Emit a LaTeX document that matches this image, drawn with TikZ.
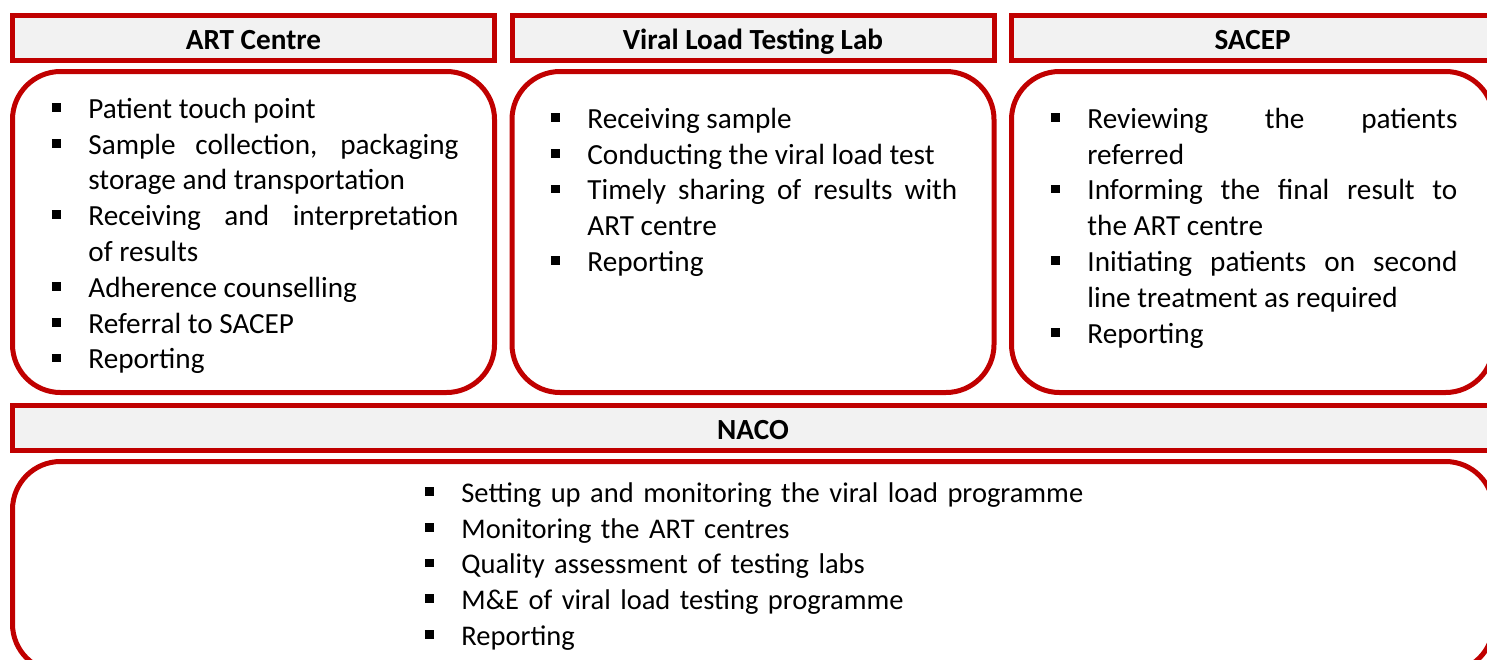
\documentclass[tikz,border=0pt]{standalone}
\usepackage{fontspec}
\setmainfont{Carlito}
\usepackage{tikz}
\definecolor{boxred}{HTML}{C00000}
\definecolor{headgray}{HTML}{F2F2F2}
\newcommand{\bodyfont}{\fontsize{14.6pt}{17.9pt}\selectfont}
\newcommand{\sqbullet}{\noindent\llap{\rule[3.3pt]{4.5pt}{4.4pt}\hspace{13.75pt}}}
\tolerance=9999
\hyphenpenalty=10000

\begin{document}
\begin{tikzpicture}[x=0.5pt, y=-0.5pt,
    headbox/.style={rectangle, draw=boxred, line width=2.5pt, fill=headgray, minimum width=241pt, minimum height=22.5pt, inner sep=0pt, text height=11.3pt, text depth=0pt, font=\bodyfont\bfseries},
    roundbox/.style={rectangle, rounded corners=24pt, draw=boxred, line width=2.5pt, minimum width=241pt, minimum height=160.5pt},
    listtext/.style={anchor=base west, inner sep=0pt, text width=185pt, align=justify, font=\bodyfont}]
    \useasboundingbox (0, 0) rectangle (1487, 659);

    % headers
    \node[headbox] (art head) at (253.5, 38) {ART Centre};
    \node[headbox] (lab head) at (753, 38) {Viral Load Testing Lab};
    \node[headbox] (sacep head) at (1252.5, 38) {SACEP};
    \node[headbox, minimum width=740.5pt] (naco head) at (753, 428) {NACO};

    % rounded boxes
    \node[roundbox] (art box) at (253.5, 232) {};
    \node[roundbox] (lab box) at (753, 232) {};
    \node[roundbox] (sacep box) at (1252.5, 232) {};
    \node[roundbox, minimum width=740.5pt, minimum height=105.25pt] (naco box) at (753, 566.75) {};

    % lists
    \node[listtext] (art list) at (88, 118.3) {%
        \sqbullet Patient touch point\par
        \sqbullet Sample collection, packaging\linebreak storage and transportation\par
        \sqbullet Receiving and interpretation\linebreak of results\par
        \sqbullet Adherence counselling\par
        \sqbullet Referral to SACEP\par
        \sqbullet Reporting};
    \node[listtext] (lab list) at (587, 128.3) {%
        \sqbullet Receiving sample\par
        \sqbullet Conducting the viral load test\par
        \sqbullet Timely sharing of results with\linebreak ART centre\par
        \sqbullet Reporting};
    \node[listtext] (sacep list) at (1087, 128.3) {%
        \sqbullet Reviewing the patients\linebreak referred\par
        \sqbullet Informing the final result to\linebreak the ART centre\par
        \sqbullet Initiating patients on second\linebreak line treatment as required\par
        \sqbullet Reporting};
    \node[listtext, text width=330pt, align=left, font=\fontsize{14.25pt}{17.9pt}\selectfont] (naco list) at (461, 502.3) {%
        \sqbullet Setting up and monitoring the viral load programme\par
        \sqbullet Monitoring the ART centres\par
        \sqbullet Quality assessment of testing labs\par
        \sqbullet M\&E of viral load testing programme\par
        \sqbullet Reporting};
\end{tikzpicture}
\end{document}
